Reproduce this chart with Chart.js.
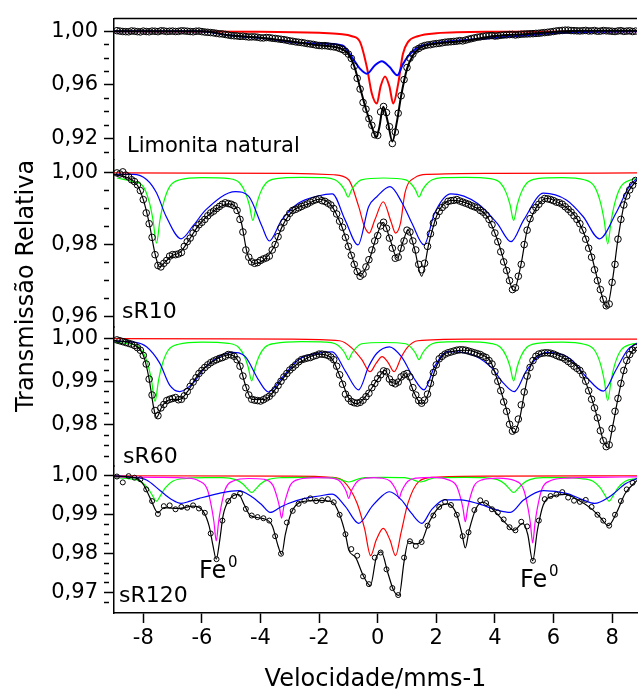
<!DOCTYPE html>
<html>
<head>
<meta charset="utf-8">
<script src="https://cdn.jsdelivr.net/npm/chart.js@4.4.1/dist/chart.umd.min.js"></script>
<style>
  html, body { margin: 0; padding: 0; background: #fff; }
  #wrap { position: relative; width: 642px; height: 696px; overflow: hidden; }
  #wrap canvas { position: absolute; left: 0; top: 0; }
</style>
</head>
<body>
<div id="wrap">
  <canvas id="c1" width="642" height="696"></canvas>
  <canvas id="c2" width="642" height="696"></canvas>
  <canvas id="c3" width="642" height="696"></canvas>
  <canvas id="c4" width="642" height="696"></canvas>
</div>
<script>
// velocity channels (mm/s)
const vel = [-8.9,-8.7,-8.5,-8.3,-8.1,-7.9,-7.7,-7.5,-7.3,-7.1,
  -6.9,-6.7,-6.5,-6.3,-6.1,-5.9,-5.7,-5.5,-5.3,-5.1,
  -4.9,-4.7,-4.5,-4.3,-4.1,-3.9,-3.7,-3.5,-3.3,-3.1,
  -2.9,-2.7,-2.5,-2.3,-2.1,-1.9,-1.7,-1.5,-1.3,-1.1,
  -0.9,-0.7,-0.5,-0.3,-0.1,0.1,0.3,0.5,0.7,0.9,
  1.1,1.3,1.5,1.7,1.9,2.1,2.3,2.5,2.7,2.9,
  3.1,3.3,3.5,3.7,3.9,4.1,4.3,4.5,4.7,4.9,
  5.1,5.3,5.5,5.7,5.9,6.1,6.3,6.5,6.7,6.9,
  7.1,7.3,7.5,7.7,7.9,8.1,8.3,8.5,8.7];
// in-between channels (used by the three denser spectra)
const vel2 = [-8.8,-8.6,-8.4,-8.2,-8.0,-7.8,-7.6,-7.4,-7.2,-7.0,
  -6.8,-6.6,-6.4,-6.2,-6.0,-5.8,-5.6,-5.4,-5.2,-5.0,
  -4.8,-4.6,-4.4,-4.2,-4.0,-3.8,-3.6,-3.4,-3.2,-3.0,
  -2.8,-2.6,-2.4,-2.2,-2.0,-1.8,-1.6,-1.4,-1.2,-1.0,
  -0.8,-0.6,-0.4,-0.2,0.0,0.2,0.4,0.6,0.8,1.0,
  1.2,1.4,1.6,1.8,2.0,2.2,2.4,2.6,2.8,3.0,
  3.2,3.4,3.6,3.8,4.0,4.2,4.4,4.6,4.8,5.0,
  5.2,5.4,5.6,5.8,6.0,6.2,6.4,6.6,6.8,7.0,
  7.2,7.4,7.6,7.8,8.0,8.2,8.4,8.6,8.8];

// measured relative transmission
const limonitaData = [1.0004,0.9998,0.9996,1.0000,0.9995,0.9998,1.0001,0.9997,1.0002,1.0000,
  0.9998,1.0003,1.0000,0.9996,1.0001,0.9994,0.9990,0.9984,0.9980,0.9972,
  0.9966,0.9962,0.9960,0.9958,0.9955,0.9950,0.9952,0.9946,0.9940,0.9933,
  0.9925,0.9918,0.9912,0.9905,0.9897,0.9892,0.9890,0.9884,0.9872,0.9850,
  0.9798,0.9650,0.9470,0.9350,0.9230,0.9400,0.9395,0.9165,0.9390,0.9640,
  0.9800,0.9860,0.9885,0.9898,0.9905,0.9910,0.9918,0.9922,0.9926,0.9928,
  0.9940,0.9950,0.9958,0.9965,0.9968,0.9966,0.9972,0.9975,0.9972,0.9978,
  0.9980,0.9982,0.9985,0.9990,0.9995,1.0002,1.0006,1.0008,1.0004,1.0002,
  1.0006,1.0003,1.0000,1.0005,1.0002,0.9998,1.0004,1.0001,0.9998];
const limonitaData2 = [1.0001,0.9997,1.0002,0.9997,1.0001,0.9996,1.0000,1.0003,0.9998,1.0001,
  0.9999,1.0002,0.9998,1.0000,0.9997,0.9992,0.9988,0.9981,0.9976,0.9968,
  0.9965,0.9963,0.9957,0.9958,0.9951,0.9953,0.9948,0.9943,0.9937,0.9928,
  0.9921,0.9916,0.9908,0.9902,0.9894,0.9893,0.9886,0.9880,0.9864,0.9830,
  0.9740,0.9570,0.9420,0.9300,0.9225,0.9440,0.9290,0.9250,0.9520,0.9730,
  0.9830,0.9872,0.9893,0.9900,0.9908,0.9914,0.9920,0.9924,0.9930,0.9934,
  0.9945,0.9955,0.9962,0.9966,0.9964,0.9970,0.9973,0.9976,0.9975,0.9979,
  0.9981,0.9984,0.9988,0.9992,0.9998,1.0004,1.0008,1.0005,1.0003,1.0004,
  1.0002,1.0005,1.0001,1.0003,1.0000,1.0002,0.9999,1.0003,1.0001];
const sR10Data = [0.9999,1.0002,0.9988,0.9975,0.9950,0.9888,0.9820,0.9742,0.9748,0.9768,
  0.9772,0.9778,0.9808,0.9832,0.9855,0.9870,0.9888,0.9900,0.9912,0.9914,
  0.9908,0.9870,0.9785,0.9752,0.9750,0.9760,0.9768,0.9800,0.9846,0.9875,
  0.9895,0.9902,0.9910,0.9918,0.9925,0.9922,0.9915,0.9900,0.9865,0.9820,
  0.9770,0.9725,0.9718,0.9758,0.9810,0.9852,0.9845,0.9790,0.9765,0.9810,
  0.9835,0.9785,0.9730,0.9795,0.9860,0.9892,0.9910,0.9922,0.9925,0.9918,
  0.9912,0.9905,0.9895,0.9882,0.9855,0.9808,0.9752,0.9700,0.9680,0.9745,
  0.9840,0.9895,0.9912,0.9928,0.9925,0.9918,0.9912,0.9898,0.9880,0.9858,
  0.9815,0.9765,0.9700,0.9648,0.9635,0.9745,0.9870,0.9935,0.9965];
const sR10Data2 = [0.9996,0.9993,0.9980,0.9966,0.9925,0.9858,0.9772,0.9738,0.9756,0.9772,
  0.9774,0.9795,0.9818,0.9845,0.9862,0.9880,0.9893,0.9906,0.9916,0.9912,
  0.9895,0.9835,0.9765,0.9748,0.9756,0.9763,0.9785,0.9822,0.9862,0.9887,
  0.9898,0.9906,0.9913,0.9922,0.9927,0.9920,0.9910,0.9885,0.9848,0.9795,
  0.9745,0.9712,0.9738,0.9785,0.9825,0.9862,0.9818,0.9762,0.9790,0.9840,
  0.9810,0.9745,0.9748,0.9830,0.9880,0.9903,0.9920,0.9923,0.9921,0.9915,
  0.9908,0.9902,0.9890,0.9870,0.9832,0.9780,0.9728,0.9675,0.9712,0.9800,
  0.9872,0.9903,0.9922,0.9927,0.9922,0.9916,0.9905,0.9890,0.9870,0.9840,
  0.9790,0.9730,0.9675,0.9630,0.9695,0.9815,0.9910,0.9952,0.9978];
const sR60Data = [0.9996,0.9992,0.9988,0.9983,0.9972,0.9940,0.9868,0.9820,0.9846,0.9858,
  0.9862,0.9858,0.9876,0.9898,0.9918,0.9932,0.9943,0.9950,0.9955,0.9962,
  0.9958,0.9935,0.9885,0.9858,0.9855,0.9857,0.9865,0.9880,0.9900,0.9918,
  0.9932,0.9945,0.9952,0.9955,0.9960,0.9963,0.9960,0.9950,0.9915,0.9870,
  0.9853,0.9849,0.9856,0.9872,0.9895,0.9915,0.9922,0.9897,0.9898,0.9915,
  0.9910,0.9868,0.9849,0.9870,0.9920,0.9952,0.9963,0.9968,0.9972,0.9973,
  0.9970,0.9966,0.9962,0.9955,0.9940,0.9900,0.9852,0.9800,0.9788,0.9845,
  0.9912,0.9948,0.9963,0.9966,0.9965,0.9960,0.9955,0.9946,0.9935,0.9925,
  0.9900,0.9858,0.9815,0.9762,0.9752,0.9830,0.9895,0.9948,0.9972];
const sR60Data2 = [0.9994,0.9990,0.9986,0.9978,0.9960,0.9905,0.9832,0.9838,0.9855,0.9860,
  0.9857,0.9866,0.9888,0.9908,0.9925,0.9938,0.9947,0.9953,0.9958,0.9961,
  0.9950,0.9912,0.9868,0.9856,0.9854,0.9861,0.9872,0.9890,0.9910,0.9926,
  0.9938,0.9950,0.9954,0.9958,0.9963,0.9962,0.9956,0.9935,0.9893,0.9860,
  0.9850,0.9851,0.9864,0.9885,0.9906,0.9924,0.9905,0.9894,0.9910,0.9918,
  0.9885,0.9855,0.9856,0.9895,0.9938,0.9958,0.9966,0.9970,0.9973,0.9972,
  0.9968,0.9964,0.9958,0.9948,0.9922,0.9878,0.9830,0.9784,0.9812,0.9875,
  0.9932,0.9958,0.9965,0.9966,0.9963,0.9957,0.9951,0.9941,0.9930,0.9915,
  0.9878,0.9838,0.9785,0.9748,0.9790,0.9860,0.9925,0.9962,0.9978];
const sR120Data = [0.9998,0.9983,0.9999,0.9995,0.9991,0.9965,0.9935,0.9902,0.9922,0.9924,
  0.9914,0.9920,0.9918,0.9924,0.9916,0.9905,0.9852,0.9786,0.9885,0.9935,
  0.9948,0.9954,0.9915,0.9898,0.9894,0.9891,0.9885,0.9845,0.9800,0.9880,
  0.9910,0.9928,0.9936,0.9942,0.9935,0.9937,0.9940,0.9932,0.9900,0.9850,
  0.9812,0.9795,0.9742,0.9722,0.9790,0.9803,0.9760,0.9712,0.9694,0.9790,
  0.9832,0.9820,0.9830,0.9872,0.9898,0.9920,0.9933,0.9925,0.9900,0.9845,
  0.9855,0.9912,0.9937,0.9930,0.9914,0.9906,0.9888,0.9868,0.9860,0.9882,
  0.9870,0.9782,0.9885,0.9940,0.9948,0.9952,0.9958,0.9944,0.9936,0.9933,
  0.9938,0.9920,0.9900,0.9885,0.9872,0.9900,0.9935,0.9965,0.9982];

// fitted curves: [velocity, transmission]
const limonitaFit = [[-9,1.0],[-6,0.9999],[-5,0.9968],[-4,0.9952],[-3,0.9925],[-2,0.9895],[-1.5,0.9884],[-1.2,0.9865],[-1.0,0.983],[-0.8,0.974],[-0.6,0.958],[-0.4,0.942],[-0.2,0.929],[-0.05,0.9215],[0.05,0.928],[0.19,0.9438],[0.35,0.932],[0.5,0.918],[0.65,0.932],[0.8,0.952],[1.0,0.972],[1.2,0.982],[1.4,0.987],[1.7,0.9897],[2.2,0.9912],[3.0,0.993],[4,0.9964],[5,0.9978],[6,0.9995],[7,1.0003],[8.85,1.0003]];
const limonitaRed = [[-9,0.9999],[-4,0.9996],[-2,0.9988],[-1.3,0.998],[-0.88,0.9963],[-0.6,0.9919],[-0.37,0.9733],[-0.2,0.9536],[-0.03,0.9462],[0.1,0.959],[0.25,0.9664],[0.4,0.959],[0.53,0.9462],[0.7,0.961],[0.86,0.9831],[1.03,0.9919],[1.37,0.9963],[2,0.9985],[4,0.9996],[8.85,0.9999]];
const limonitaBlue = [[-9,1.0],[-6.1,1.0],[-5.0,0.9968],[-3.8,0.9945],[-2.7,0.9914],[-2.0,0.9909],[-1.2,0.9894],[-0.88,0.9807],[-0.6,0.972],[-0.37,0.9684],[-0.1,0.9745],[0.14,0.9777],[0.4,0.9735],[0.67,0.9672],[0.85,0.975],[1.06,0.982],[1.37,0.988],[2.0,0.9912],[3.0,0.9935],[4.5,0.996],[6.0,0.9985],[7,0.9995],[8.85,1.0]];

const sR10Fit = [[-9,0.9995],[-8.5,0.9985],[-8.2,0.9965],[-8.0,0.9925],[-7.8,0.986],[-7.6,0.9775],[-7.45,0.9738],[-7.25,0.9752],[-7.0,0.977],[-6.75,0.9778],[-6.5,0.9805],[-6.1,0.9855],[-5.6,0.9893],[-5.1,0.9913],[-4.85,0.9905],[-4.65,0.986],[-4.45,0.9775],[-4.2,0.9748],[-3.85,0.976],[-3.55,0.9792],[-3.25,0.9852],[-2.9,0.9893],[-2.4,0.9912],[-2.0,0.9926],[-1.6,0.991],[-1.25,0.9855],[-0.9,0.9772],[-0.6,0.9713],[-0.3,0.9755],[-0.03,0.9825],[0.19,0.9862],[0.42,0.9815],[0.67,0.9762],[0.85,0.9805],[1.04,0.984],[1.25,0.979],[1.5,0.9712],[1.75,0.9805],[2.05,0.9887],[2.5,0.9923],[2.85,0.992],[3.3,0.9905],[3.75,0.9876],[4.1,0.981],[4.38,0.9735],[4.64,0.9672],[4.88,0.974],[5.1,0.984],[5.43,0.9905],[5.77,0.9928],[6.2,0.9915],[6.8,0.9872],[7.25,0.9783],[7.57,0.9683],[7.82,0.9625],[8.02,0.9705],[8.2,0.9815],[8.45,0.9925],[8.85,0.998]];
const sR10Red = [[-9,0.9999],[-3,0.9998],[-1.5,0.9994],[-0.99,0.998],[-0.65,0.9906],[-0.45,0.985],[-0.29,0.9832],[-0.1,0.9868],[0.19,0.9919],[0.45,0.9865],[0.61,0.9832],[0.78,0.986],[0.93,0.9943],[1.27,0.9986],[1.71,0.9995],[4,0.9998],[8.85,0.9999]];
const sR10Green = [[-8.9,0.9985],[-8.35,0.9975],[-8.0,0.9961],[-7.8,0.9919],[-7.67,0.9869],[-7.55,0.9804],[-7.43,0.9869],[-7.3,0.9919],[-7.1,0.9961],[-6.75,0.998],[-6.0,0.9986],[-5.06,0.9983],[-4.71,0.9971],[-4.51,0.9943],[-4.38,0.991],[-4.26,0.9867],[-4.14,0.991],[-4.01,0.9943],[-3.81,0.9971],[-3.46,0.9983],[-2.6,0.9987],[-1.81,0.9986],[-1.46,0.998],[-1.26,0.9967],[-1.13,0.9952],[-1.01,0.9932],[-0.89,0.9952],[-0.76,0.9967],[-0.56,0.998],[0.2,0.9985],[0.96,0.998],[1.16,0.9967],[1.29,0.9952],[1.41,0.9932],[1.53,0.9952],[1.66,0.9967],[1.86,0.998],[2.21,0.9986],[3.0,0.9987],[3.84,0.9983],[4.19,0.9971],[4.39,0.9943],[4.52,0.991],[4.64,0.9867],[4.76,0.991],[4.89,0.9943],[5.09,0.9971],[5.44,0.9983],[6.3,0.9986],[7.05,0.998],[7.4,0.9961],[7.6,0.9918],[7.73,0.9867],[7.85,0.9802],[7.97,0.9867],[8.1,0.9918],[8.3,0.9961],[8.65,0.998],[8.85,0.9983]];
const sR10Blue = [[-8.98,0.9995],[-8.34,0.9995],[-7.89,0.9981],[-7.55,0.9944],[-7.22,0.9878],[-6.71,0.9816],[-6.31,0.9851],[-5.86,0.9897],[-4.85,0.9947],[-4.4,0.9934],[-3.95,0.9851],[-3.7,0.981],[-3.28,0.9868],[-2.71,0.9915],[-2.04,0.9935],[-1.55,0.9941],[-1.11,0.9868],[-0.67,0.9799],[-0.31,0.9905],[-0.03,0.9933],[0.42,0.9961],[0.84,0.9915],[1.17,0.9859],[1.58,0.9799],[1.94,0.9887],[2.5,0.9941],[3.4,0.9915],[4.08,0.9859],[4.55,0.9808],[4.98,0.9868],[5.66,0.9943],[6.44,0.9924],[7.01,0.9878],[7.57,0.9816],[8.13,0.9887],[8.58,0.9961],[8.85,0.9984]];

const sR60Fit = [[-9,0.9995],[-8.3,0.9984],[-8.0,0.996],[-7.8,0.9905],[-7.65,0.984],[-7.55,0.9816],[-7.35,0.9843],[-7.05,0.9858],[-6.75,0.9858],[-6.5,0.9875],[-6.1,0.9918],[-5.6,0.9947],[-5.05,0.9962],[-4.75,0.9945],[-4.5,0.9888],[-4.3,0.9858],[-3.85,0.9858],[-3.6,0.9872],[-3.25,0.9905],[-2.9,0.9932],[-2.4,0.9954],[-2.0,0.9963],[-1.6,0.9955],[-1.25,0.9905],[-1.0,0.9862],[-0.7,0.9848],[-0.35,0.987],[0.0,0.9905],[0.25,0.9925],[0.45,0.9898],[0.65,0.9895],[0.95,0.9918],[1.25,0.9872],[1.5,0.9847],[1.72,0.987],[1.95,0.9925],[2.2,0.9958],[2.6,0.997],[3.0,0.9972],[3.5,0.9963],[3.85,0.9946],[4.1,0.99],[4.38,0.9838],[4.64,0.978],[4.85,0.9815],[5.0,0.987],[5.2,0.9932],[5.55,0.9963],[5.9,0.9965],[6.45,0.995],[6.9,0.9926],[7.25,0.987],[7.5,0.9815],[7.7,0.9762],[7.85,0.9746],[8.02,0.9795],[8.2,0.986],[8.42,0.9928],[8.65,0.9966],[8.85,0.998]];
const sR60Red = [[-9,0.9999],[-3,0.9998],[-1.3,0.9994],[-0.88,0.9977],[-0.54,0.995],[-0.26,0.9922],[-0.05,0.9942],[0.15,0.9957],[0.35,0.9944],[0.56,0.9922],[0.81,0.9957],[1.03,0.998],[1.37,0.9994],[3,0.9998],[8.85,0.9998]];
const sR60Green = [[-8.95,0.999],[-8.4,0.9986],[-8.05,0.9972],[-7.85,0.994],[-7.72,0.9902],[-7.6,0.9853],[-7.48,0.9902],[-7.35,0.994],[-7.15,0.9972],[-6.8,0.9986],[-6.0,0.9991],[-5.1,0.9988],[-4.75,0.9979],[-4.55,0.9958],[-4.42,0.9933],[-4.3,0.9901],[-4.18,0.9933],[-4.05,0.9958],[-3.85,0.9979],[-3.5,0.9988],[-2.6,0.9992],[-1.8,0.9991],[-1.45,0.9987],[-1.25,0.9977],[-1.12,0.9965],[-1.0,0.995],[-0.88,0.9965],[-0.75,0.9977],[-0.55,0.9987],[0.2,0.999],[0.96,0.9987],[1.16,0.9977],[1.29,0.9965],[1.41,0.995],[1.53,0.9965],[1.66,0.9977],[1.86,0.9987],[2.21,0.9991],[3.0,0.9992],[3.84,0.9988],[4.19,0.9979],[4.39,0.9958],[4.52,0.9933],[4.64,0.9901],[4.76,0.9933],[4.89,0.9958],[5.09,0.9979],[5.44,0.9988],[6.3,0.9991],[7.05,0.9986],[7.4,0.9972],[7.6,0.9941],[7.73,0.9903],[7.85,0.9855],[7.97,0.9903],[8.1,0.9941],[8.3,0.9972],[8.65,0.9986],[8.85,0.9988]];
const sR60Blue = [[-8.98,0.9993],[-8.3,0.9991],[-7.89,0.998],[-7.44,0.9942],[-7.1,0.9891],[-6.76,0.9876],[-6.31,0.9895],[-5.86,0.9934],[-4.96,0.9967],[-4.52,0.9957],[-4.07,0.9903],[-3.73,0.9875],[-3.28,0.9907],[-2.71,0.995],[-2.04,0.9965],[-1.55,0.9968],[-1.1,0.9923],[-0.65,0.988],[-0.31,0.9934],[-0.03,0.9965],[0.4,0.998],[0.81,0.9957],[1.2,0.9911],[1.58,0.988],[1.94,0.9934],[2.39,0.9969],[3.06,0.9965],[3.85,0.9934],[4.3,0.9895],[4.66,0.9876],[5.09,0.9926],[5.77,0.9967],[6.56,0.9953],[7.12,0.991],[7.7,0.9877],[8.13,0.9926],[8.53,0.9973],[8.85,0.9988]];

const sR120Fit = [[-9,0.9999],[-8.3,0.9995],[-8.0,0.9978],[-7.75,0.994],[-7.5,0.9905],[-7.3,0.9918],[-6.8,0.9916],[-6.3,0.9922],[-5.95,0.9908],[-5.75,0.987],[-5.62,0.982],[-5.51,0.9786],[-5.4,0.983],[-5.27,0.99],[-5.05,0.994],[-4.75,0.9952],[-4.55,0.9925],[-4.35,0.9898],[-3.9,0.989],[-3.6,0.9872],[-3.4,0.982],[-3.28,0.9798],[-3.15,0.985],[-2.95,0.9905],[-2.6,0.9933],[-2.0,0.9937],[-1.55,0.9933],[-1.3,0.99],[-1.1,0.985],[-0.99,0.981],[-0.75,0.979],[-0.5,0.9745],[-0.25,0.9718],[-0.05,0.979],[0.12,0.9805],[0.35,0.975],[0.55,0.9705],[0.73,0.9693],[0.9,0.978],[1.05,0.9832],[1.3,0.9825],[1.5,0.9832],[1.75,0.988],[2.1,0.992],[2.4,0.9928],[2.7,0.99],[2.88,0.985],[2.99,0.9815],[3.12,0.986],[3.35,0.9915],[3.6,0.9932],[4.0,0.9908],[4.4,0.9876],[4.65,0.986],[4.95,0.9878],[5.12,0.985],[5.29,0.9782],[5.45,0.986],[5.65,0.9925],[6.0,0.9948],[6.4,0.9952],[6.9,0.9935],[7.3,0.9915],[7.6,0.9893],[7.87,0.9872],[8.15,0.9905],[8.45,0.9955],[8.85,0.9988]];
const sR120Red = [[-9,1.0],[-3,0.9999],[-1.6,0.9996],[-1.15,0.9985],[-0.7,0.9929],[-0.45,0.9865],[-0.24,0.9795],[-0.05,0.9835],[0.19,0.9865],[0.42,0.9835],[0.61,0.9795],[0.8,0.9855],[1.03,0.9929],[1.4,0.9985],[1.9,0.9996],[4,0.9999],[8.85,1.0]];
const sR120Green = [[-8.95,0.9995],[-8.55,0.9993],[-8.1,0.9986],[-7.85,0.9969],[-7.7,0.9951],[-7.55,0.9935],[-7.4,0.9951],[-7.25,0.9969],[-7.0,0.9986],[-6.55,0.9993],[-5.9,0.9995],[-5.3,0.9995],[-4.85,0.999],[-4.6,0.9979],[-4.45,0.9967],[-4.3,0.9957],[-4.15,0.9967],[-4.0,0.9979],[-3.75,0.999],[-3.3,0.9995],[-2.5,0.9996],[-1.54,0.9995],[-1.29,0.9991],[-1.14,0.9987],[-0.99,0.9984],[-0.84,0.9987],[-0.69,0.9991],[-0.44,0.9995],[0.2,0.9996],[0.91,0.9995],[1.16,0.9991],[1.31,0.9987],[1.46,0.9984],[1.61,0.9987],[1.76,0.9991],[2.01,0.9995],[3.0,0.9996],[3.64,0.9995],[4.09,0.999],[4.34,0.9979],[4.49,0.9967],[4.64,0.9957],[4.79,0.9967],[4.94,0.9979],[5.19,0.999],[5.64,0.9995],[6.4,0.9995],[6.9,0.9993],[7.35,0.9986],[7.6,0.9969],[7.75,0.9951],[7.9,0.9935],[8.05,0.9951],[8.2,0.9969],[8.45,0.9986],[8.85,0.9993]];
const sR120Blue = [[-8.98,1.0],[-8.4,0.9996],[-7.89,0.9989],[-7.44,0.9963],[-7.05,0.994],[-6.71,0.9929],[-6.4,0.9935],[-6.09,0.9942],[-5.41,0.9955],[-4.74,0.9962],[-4.3,0.9946],[-3.95,0.9925],[-3.67,0.9906],[-3.35,0.9918],[-3.05,0.9929],[-2.49,0.9942],[-2.0,0.9948],[-1.55,0.9953],[-1.1,0.9921],[-0.65,0.9878],[-0.2,0.9921],[0.1,0.9945],[0.4,0.9959],[0.81,0.9938],[1.15,0.9904],[1.51,0.9878],[1.83,0.9912],[2.28,0.9938],[2.84,0.9938],[3.4,0.9929],[4.08,0.9912],[4.53,0.9906],[4.98,0.9938],[5.66,0.9962],[6.44,0.9955],[7.01,0.9938],[7.4,0.9929],[7.91,0.9946],[8.47,0.998],[8.85,0.9993]];
const sR120Fe = [[-8.95,0.9997],[-7.5,0.9996],[-6.51,0.9994],[-6.11,0.9987],[-5.81,0.9964],[-5.66,0.9915],[-5.59,0.9882],[-5.51,0.9833],[-5.43,0.9882],[-5.36,0.9915],[-5.21,0.9964],[-4.91,0.9987],[-4.4,0.9993],[-3.88,0.9991],[-3.58,0.9976],[-3.43,0.9944],[-3.36,0.9923],[-3.28,0.9891],[-3.2,0.9923],[-3.13,0.9944],[-2.98,0.9976],[-2.68,0.9991],[-2.1,0.9995],[-1.59,0.9994],[-1.29,0.9986],[-1.14,0.997],[-1.07,0.9959],[-0.99,0.9942],[-0.91,0.9959],[-0.84,0.997],[-0.69,0.9986],[-0.39,0.9994],[-0.13,0.9995],[0.13,0.9994],[0.43,0.9986],[0.58,0.997],[0.65,0.9959],[0.73,0.9942],[0.81,0.9959],[0.88,0.997],[1.03,0.9986],[1.33,0.9994],[1.9,0.9996],[2.39,0.999],[2.69,0.9974],[2.84,0.994],[2.91,0.9917],[2.99,0.9882],[3.07,0.9917],[3.14,0.994],[3.29,0.9974],[3.59,0.999],[4.1,0.9994],[4.69,0.9987],[4.99,0.9963],[5.14,0.9913],[5.21,0.9879],[5.29,0.9828],[5.37,0.9879],[5.44,0.9913],[5.59,0.9963],[5.89,0.9987],[6.5,0.9994],[7.5,0.9996],[8.85,0.9997]];

// axis ticks
const xTicks = [-8, -6, -4, -2, 0, 2, 4, 6, 8];
const limonitaTicks = [0.91,0.92,0.93,0.94,0.95,0.96,0.97,0.98,0.99,1.00];
const limonitaMajor = [0.92, 0.96, 1.00];
const sR10Ticks = [0.96,0.965,0.97,0.975,0.98,0.985,0.99,0.995,1.00];
const sR10Major = [0.96, 0.98, 1.00];
const sR60Ticks = [0.9725,0.975,0.9775,0.98,0.9825,0.985,0.9875,0.99,0.9925,0.995,0.9975,1.00];
const sR60Major = [0.98, 0.99, 1.00];
const sR120Ticks = [0.9675,0.97,0.9725,0.975,0.9775,0.98,0.9825,0.985,0.9875,0.99,0.9925,0.995,0.9975,1.00];
const sR120Major = [0.97, 0.98, 0.99, 1.00];

const FONT = 'DejaVu Sans';
const RED = '#ff0000', BLUE = '#0000ff', GREEN = '#00ff00', MAGENTA = '#ff00ff';

const toPts = arr => arr.map(p => ({ x: p[0], y: p[1] }));
const spectrum = (v, vals) => v.map((x, i) => ({ x: x, y: vals[i] }));
const isMajor = (v, majors) => majors.some(m => Math.abs(m - v) < 1e-6);

const textPlugin = {
  id: 'panelText',
  afterDraw(chart, args, opts) {
    const ctx = chart.ctx;
    const area = chart.chartArea;
    ctx.save();
    if (opts.topLine) {
      ctx.strokeStyle = '#000';
      ctx.lineWidth = 1.5;
      ctx.beginPath();
      ctx.moveTo(area.left, area.top);
      ctx.lineTo(area.right, area.top);
      ctx.stroke();
    }
    ctx.fillStyle = '#000';
    (opts.items || []).forEach(t => {
      ctx.font = t.size + 'px "' + FONT + '"';
      ctx.textBaseline = 'alphabetic';
      if (t.rotate) {
        ctx.save();
        ctx.translate(t.x, t.y);
        ctx.rotate(-Math.PI / 2);
        ctx.textAlign = 'center';
        ctx.fillText(t.text, 0, 0);
        ctx.restore();
      } else {
        ctx.textAlign = 'left';
        ctx.fillText(t.text, t.x, t.y);
      }
    });
    ctx.restore();
  }
};

function makePanel(id, o) {
  const datasets = o.lines.map(l => ({
    data: toPts(l.data),
    showLine: true,
    borderColor: l.color,
    borderWidth: l.width,
    pointRadius: 0,
    cubicInterpolationMode: 'monotone',
    order: l.order
  }));
  o.spectra.forEach(s => {
    datasets.push({
      data: spectrum(s[0], s[1]),
      showLine: false,
      pointRadius: o.r,
      pointBorderColor: '#000',
      pointBackgroundColor: 'rgba(0,0,0,0)',
      pointBorderWidth: 1,
      order: 0
    });
  });

  new Chart(document.getElementById(id), {
    type: 'scatter',
    data: { datasets },
    plugins: [textPlugin],
    options: {
      responsive: false,
      animation: false,
      devicePixelRatio: 1,
      layout: { padding: { top: o.top, bottom: o.bottom, left: 0, right: 0 } },
      plugins: {
        legend: { display: false },
        tooltip: { enabled: false },
        panelText: { items: o.text, topLine: !!o.topLine }
      },
      scales: {
        x: {
          type: 'linear',
          min: -9.0,
          max: 8.85,
          display: o.showX,
          afterBuildTicks: s => { s.ticks = xTicks.map(v => ({ value: v })); },
          afterFit: s => { s.height = o.showX ? 83 : 0; },
          grid: { drawOnChartArea: false, tickLength: 10, tickWidth: 1.5, tickColor: '#000' },
          border: { display: true, color: '#000', width: 1.5 },
          ticks: { color: '#000', font: { family: FONT, size: 21 }, padding: 3, maxRotation: 0, autoSkip: false,
                   callback: v => String(v) },
          title: { display: true, text: 'Velocidade/mms-1', color: '#000',
                   font: { family: FONT, size: 24 }, padding: { top: 0, bottom: 2 } }
        },
        y: {
          type: 'linear',
          min: o.min,
          max: o.max,
          afterBuildTicks: s => { s.ticks = o.ticks.map(v => ({ value: v })); },
          afterFit: s => { s.width = 114; },
          grid: {
            drawOnChartArea: false, tickLength: 10, tickWidth: 1.5, tickColor: '#000',
            tickBorderDash: ctx => (ctx.tick && !isMajor(ctx.tick.value, o.majors)) ? [5, 40] : []
          },
          border: { display: true, color: '#000', width: 1.5 },
          ticks: {
            autoSkip: false, color: '#000', font: { family: FONT, size: 21 }, padding: 6,
            callback: v => isMajor(v, o.majors) ? v.toFixed(2).replace('.', ',') : ''
          }
        }
      }
    }
  });
}

makePanel('c1', {
  top: 18, bottom: 696 - 160, min: 0.9042, max: 1.0094, showX: false, topLine: true,
  ticks: limonitaTicks, majors: limonitaMajor, r: 3.3,
  spectra: [[vel, limonitaData], [vel2, limonitaData2]],
  lines: [
    { data: limonitaRed, color: RED, width: 2, order: 3 },
    { data: limonitaBlue, color: BLUE, width: 2, order: 2 },
    { data: limonitaFit, color: '#000', width: 2, order: 1 }
  ],
  text: [{ text: 'Limonita natural', x: 127, y: 152, size: 21 }]
});

makePanel('c2', {
  top: 160, bottom: 696 - 327, min: 0.9571, max: 1.0035, showX: false,
  ticks: sR10Ticks, majors: sR10Major, r: 3.3,
  spectra: [[vel, sR10Data], [vel2, sR10Data2]],
  lines: [
    { data: sR10Red, color: RED, width: 1.2, order: 5 },
    { data: sR10Green, color: GREEN, width: 1.2, order: 4 },
    { data: sR10Blue, color: BLUE, width: 1.2, order: 3 },
    { data: sR10Fit, color: '#000', width: 1.2, order: 1 }
  ],
  text: [
    { text: 'sR10', x: 122, y: 318, size: 22 },
    { text: 'Transmissão Relativa', x: 33, y: 286, size: 24, rotate: true }
  ]
});

makePanel('c3', {
  top: 327, bottom: 696 - 466, min: 0.9703, max: 1.0026, showX: false,
  ticks: sR60Ticks, majors: sR60Major, r: 3.3,
  spectra: [[vel, sR60Data], [vel2, sR60Data2]],
  lines: [
    { data: sR60Red, color: RED, width: 1.2, order: 5 },
    { data: sR60Green, color: GREEN, width: 1.2, order: 4 },
    { data: sR60Blue, color: BLUE, width: 1.2, order: 3 },
    { data: sR60Fit, color: '#000', width: 1.2, order: 1 }
  ],
  text: [{ text: 'sR60', x: 123, y: 463, size: 22 }]
});

makePanel('c4', {
  top: 466, bottom: 0, min: 0.9648, max: 1.0025, showX: true,
  ticks: sR120Ticks, majors: sR120Major, r: 2.5,
  spectra: [[vel, sR120Data]],
  lines: [
    { data: sR120Red, color: RED, width: 1.2, order: 6 },
    { data: sR120Green, color: GREEN, width: 1.2, order: 5 },
    { data: sR120Fe, color: MAGENTA, width: 1.2, order: 4 },
    { data: sR120Blue, color: BLUE, width: 1.2, order: 3 },
    { data: sR120Fit, color: '#000', width: 1.2, order: 1 }
  ],
  text: [
    { text: 'sR120', x: 119, y: 602, size: 22 },
    { text: 'Fe', x: 199, y: 578, size: 24 },
    { text: '0', x: 228, y: 567, size: 15 },
    { text: 'Fe', x: 520, y: 587, size: 24 },
    { text: '0', x: 549, y: 576, size: 15 }
  ]
});
</script>
</body>
</html>
